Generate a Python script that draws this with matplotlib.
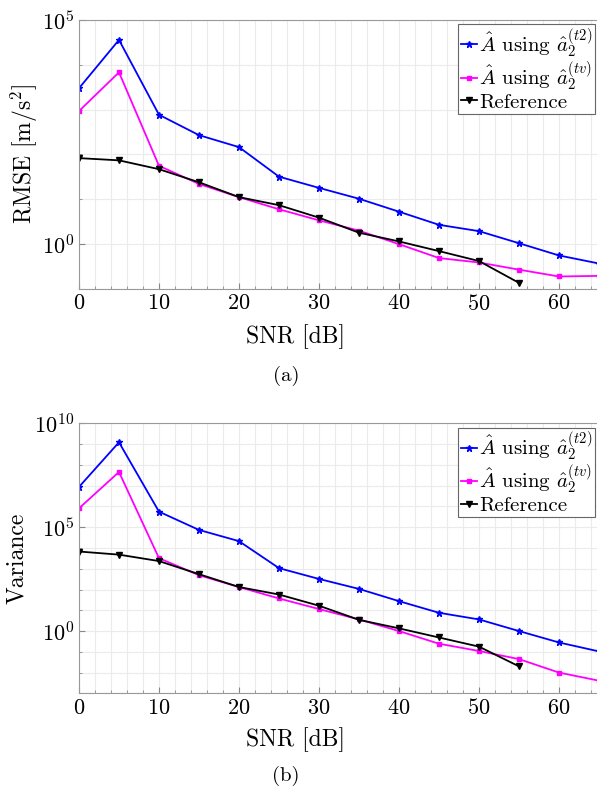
import numpy as np
import matplotlib
matplotlib.use('Agg')
import matplotlib.pyplot as plt
from matplotlib.ticker import FixedLocator, MultipleLocator, LogFormatterSciNotation, NullFormatter

plt.rcParams['font.family'] = 'serif'
plt.rcParams['font.serif'] = ['cmr10', 'DejaVu Serif']
plt.rcParams['mathtext.fontset'] = 'cm'
plt.rcParams['axes.formatter.use_mathtext'] = True
plt.rcParams['axes.unicode_minus'] = False

# SNR grid [dB]
snr = [0, 5, 10, 15, 20, 25, 30, 35, 40, 45, 50, 55, 60, 65]
snr_ref = snr[:12]

# (a) RMSE [m/s^2]
rmse_t2 = [3.0e3, 3.6e4, 770, 270, 146, 32, 18, 10.3, 5.3, 2.7, 1.95, 1.05, 0.56, 0.37]
rmse_tv = [930, 6800, 56, 22, 11.2, 6.0, 3.4, 2.0, 1.0, 0.49, 0.39, 0.27, 0.19, 0.196]
rmse_ref = [83, 74, 47, 24, 11.2, 7.4, 3.9, 1.8, 1.15, 0.70, 0.42, 0.137]

# (b) Variance, log10 values
var_t2 = [6.94, 9.09, 5.75, 4.87, 4.33, 3.03, 2.51, 2.03, 1.44, 0.88, 0.56, 0.0, -0.55, -0.98]
var_tv = [5.91, 7.66, 3.51, 2.69, 2.12, 1.57, 1.06, 0.56, 0.0, -0.61, -0.96, -1.35, -2.0, -2.39]
var_ref = [3.83, 3.68, 3.37, 2.74, 2.12, 1.76, 1.22, 0.54, 0.13, -0.31, -0.75, -1.70]

labels = [r'$\hat{A}$ using $\hat{a}_2^{(t2)}$',
          r'$\hat{A}$ using $\hat{a}_2^{(tv)}$',
          'Reference']


def draw(ax, y_t2, y_tv, y_ref, ylim, major, minor):
    ax.plot(snr, y_t2, color='#0000ff', marker='*', markersize=5, lw=1.3, label=labels[0])
    ax.plot(snr, y_tv, color='#ff00ff', marker='s', markersize=3, lw=1.3, label=labels[1])
    ax.plot(snr_ref, y_ref, color='black', marker='v', markersize=4, lw=1.3, label=labels[2])
    ax.set_yscale('log')
    ax.set_xlim(0, 65)
    ax.set_ylim(*ylim)
    ax.xaxis.set_major_locator(MultipleLocator(10))
    ax.xaxis.set_minor_locator(MultipleLocator(2))
    ax.yaxis.set_major_locator(FixedLocator(major))
    ax.yaxis.set_minor_locator(FixedLocator(minor))
    ax.yaxis.set_major_formatter(LogFormatterSciNotation())
    ax.yaxis.set_minor_formatter(NullFormatter())
    ax.grid(True, which='both', color='#ebebeb', lw=0.8)
    ax.set_axisbelow(True)
    ax.tick_params(which='both', direction='in', labelsize=16, color='#888888')
    ax.tick_params(which='major', length=4)
    ax.tick_params(which='minor', length=2)
    for s in ax.spines.values():
        s.set_color('#999999')
    ax.set_xlabel('SNR [dB]', fontsize=17)
    leg = ax.legend(loc='upper right', fontsize=15, handlelength=0.8, handletextpad=0.1,
                    borderaxespad=0.2, borderpad=0.1, labelspacing=0.0,
                    fancybox=False, framealpha=1)
    leg.get_frame().set_edgecolor('#666666')
    leg.get_frame().set_linewidth(0.8)


fig = plt.figure(figsize=(5.97, 7.87), dpi=100)

ax1 = fig.add_axes([0.1323, 0.6328, 0.871, 0.3418])
draw(ax1, rmse_t2, rmse_tv, rmse_ref, (1e-1, 1e5), [1e0, 1e5],
     [10.0 ** k for k in range(-1, 6)])
ax1.set_ylabel(r'RMSE [m/s$^2$]', fontsize=17)
ax1.xaxis.set_label_coords(0.417, -0.13)
ax1.yaxis.set_label_coords(-0.075, 0.5)

ax2 = fig.add_axes([0.1323, 0.119, 0.871, 0.343])
draw(ax2, [10.0 ** v for v in var_t2], [10.0 ** v for v in var_tv],
     [10.0 ** v for v in var_ref], (1e-3, 1e10), [1e0, 1e5, 1e10],
     [10.0 ** k for k in range(-3, 11)])
ax2.set_ylabel('Variance', fontsize=17)
ax2.xaxis.set_label_coords(0.417, -0.125)
ax2.yaxis.set_label_coords(-0.098, 0.5)

fig.text(286 / 597, 1 - 376 / 787, '(a)', ha='center', va='center', fontsize=15)
fig.text(286 / 597, 1 - 776 / 787, '(b)', ha='center', va='center', fontsize=15)

fig.savefig('out.png', dpi=100)
